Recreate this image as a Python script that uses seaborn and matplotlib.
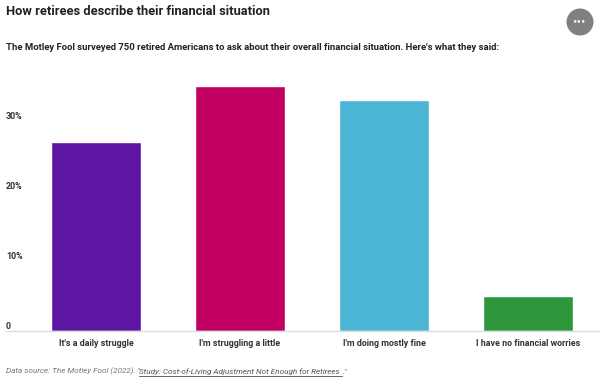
import matplotlib
matplotlib.use("Agg")
import matplotlib.pyplot as plt
from matplotlib.patches import Ellipse
from matplotlib.lines import Line2D
import pandas as pd
import seaborn as sns

categories = ["It's a daily struggle", "I'm struggling a little", "I'm doing mostly fine", "I have no financial worries"]
values = [27, 35, 33, 5]
colors = ["#5C16A3", "#C10062", "#4BB5D6", "#2E973C"]
y_ticks = [0, 10, 20, 30]
y_labels = ["0", "10%", "20%", "30%"]

sns.set_theme(style="white")
plt.rcParams["font.family"] = ["Roboto", "DejaVu Sans"]

W, H = 600, 380
fig = plt.figure(figsize=(W / 100, H / 100), dpi=100, facecolor="white")
ax = fig.add_axes([6 / W, 1 - 331 / H, 594 / W, 271 / H])

df = pd.DataFrame({"answer": categories, "share": values})
sns.barplot(data=df, x="answer", y="share", hue="answer", palette=colors, legend=False,
            width=0.62, saturation=1, ax=ax)
ax.set_xlim(-0.625, 3.5)
ax.set_ylim(0, 271 / 7)
ax.set_xlabel("")
ax.set_ylabel("")
for s in ["top", "left", "right"]:
    ax.spines[s].set_visible(False)
ax.spines["bottom"].set_color("#DDDDDD")
ax.spines["bottom"].set_linewidth(1)
ax.set_yticks(y_ticks, y_labels)
ax.tick_params(axis="y", length=0, pad=0, labelsize=6.4, labelcolor="#333333")
ax.tick_params(axis="x", length=0, pad=5.5, labelsize=6.4, labelcolor="#333333")
for t in ax.get_yticklabels():
    t.set_ha("left")
    t.set_va("bottom")
    t.set_fontweight("bold")
for t in ax.get_xticklabels():
    t.set_fontweight("bold")


def px(x, y):
    return x / W, 1 - y / H


fig.text(*px(6, 11.5), "How retirees describe their financial situation", fontsize=9.3, fontweight="bold",
         color="#222222", va="center", ha="left")
fig.text(*px(6, 48), "The Motley Fool surveyed 750 retired Americans to ask about their overall financial situation. Here's what they said:",
         fontsize=6.8, fontweight="bold", color="#222222", va="center", ha="left")

src_y = 371.5
src_size = 5.85
fig.text(*px(6, src_y), 'Data source: The Motley Fool (2022). "', fontsize=src_size, style="italic", color="#777777", va="center", ha="left")
fig.text(*px(139, src_y), "Study: Cost-of-Living Adjustment Not Enough for Retirees", fontsize=src_size, style="italic",
         color="#555555", va="center", ha="left")
fig.text(*px(343, src_y), '."', fontsize=src_size, style="italic", color="#777777", va="center", ha="left")
fig.add_artist(Line2D([139 / W, 342 / W], [1 - 375.7 / H, 1 - 375.7 / H], color="#666666", lw=0.7))

fig.add_artist(Ellipse(px(580, 22), 27 / W, 27 / H, color="#808080", lw=0))
fig.text(*px(580, 21.5), "•••", fontsize=5, color="white", fontweight="bold", va="center", ha="center",
         family=["DejaVu Sans"])

fig.savefig("out.png", dpi=100)
